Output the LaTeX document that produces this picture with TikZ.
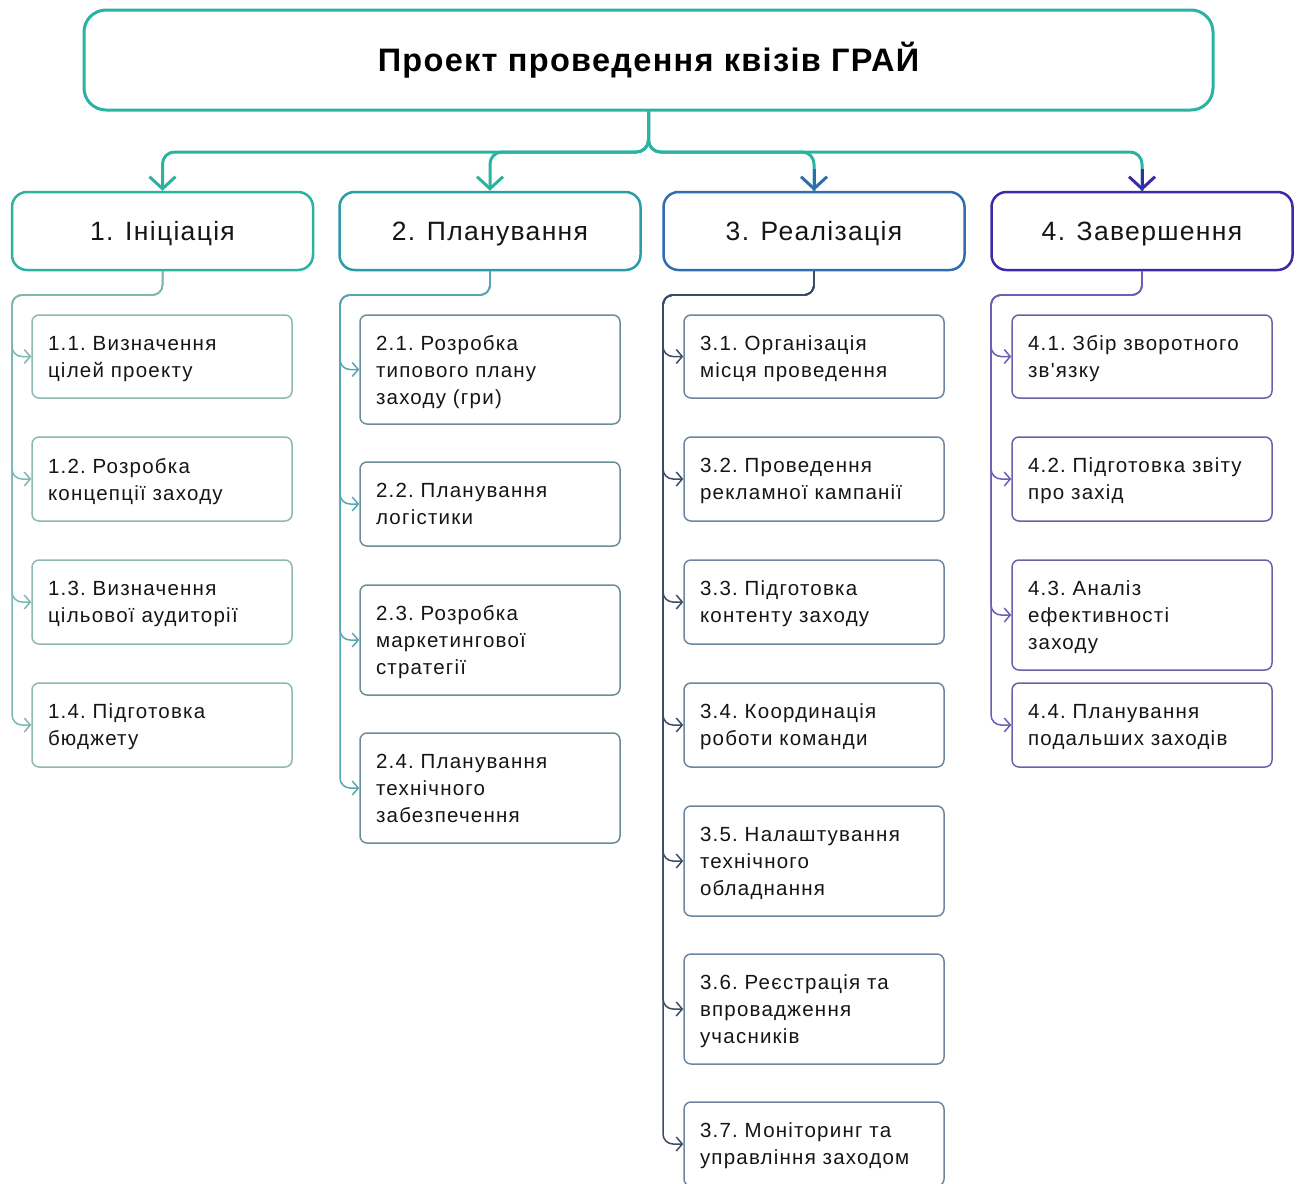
\documentclass[tikz,border=0pt]{standalone}
\usepackage{fontspec}
\setmainfont{Liberation Sans}[LetterSpace=5]
\newfontfamily\titlefont{Liberation Sans}[LetterSpace=4]
\newfontfamily\subfont{Liberation Sans}[LetterSpace=6]
\usetikzlibrary{arrows.meta}
\newcommand{\nd}[1]{\raisebox{0pt}[\height][0pt]{#1}}
\definecolor{tc}{HTML}{2BB3A2}
\definecolor{ca}{HTML}{2BB3A0}
\definecolor{cb}{HTML}{2A9CA6}
\definecolor{cc}{HTML}{2F6DB0}
\definecolor{cd}{HTML}{3A2AA8}
\definecolor{la}{HTML}{7DB8B0}
\definecolor{lb}{HTML}{55A6B0}
\definecolor{lc}{HTML}{3A4C66}
\definecolor{ld}{HTML}{6C5EB6}
\definecolor{ba}{HTML}{8DB8B2}
\definecolor{bb}{HTML}{6A8E96}
\definecolor{bc}{HTML}{6C86A2}
\definecolor{bd}{HTML}{6A62A8}
\definecolor{txt}{HTML}{151515}
\begin{document}
\begin{tikzpicture}[x=1pt,y=-1pt,
  titlebox/.style={draw=tc, line width=3pt, rounded corners=22pt, minimum width=1129pt, minimum height=100pt, text=black, font=\titlefont\fontsize{32.5}{38}\selectfont\bfseries},
  phase/.style={draw=#1, line width=2.5pt, rounded corners=15pt, minimum width=301pt, minimum height=78pt, text depth=0pt, text=txt, font=\fontsize{26.5}{32}\selectfont},
  subbox/.style={draw=#1, line width=1.5pt, rounded corners=7pt, minimum width=260pt, text width=228pt, inner xsep=0pt, align=left, text=txt, font=\subfont\fontsize{20.5}{27}\selectfont},
  trunk/.style={draw=tc, line width=3pt, rounded corners=12pt},
  bigtip/.style={-{Straight Barb[length=12pt,width=26pt,line width=3pt]}},
  subline/.style={draw=#1, line width=1.5pt, rounded corners=10pt, -{Straight Barb[length=6pt,width=14pt,line width=1.5pt]}}
]
\useasboundingbox (0,0) rectangle (1300,1183);
\clip (0,0) rectangle (1300,1183);

\node[titlebox] (title) at (648.5,60) {Проект проведення квізів ГРАЙ};

\node[phase=ca] (p1) at (162.5,231) {1. Ініціація};
\node[phase=cb] (p2) at (490,231) {2. Планування};
\node[phase=cc] (p3) at (814,231) {3. Реалізація};
\node[phase=cd] (p4) at (1142,231) {4. Завершення};

\coordinate (jn) at (648.5,152);
\draw[trunk,bigtip] (title.south) -- (jn) -| (p1.north);
\draw[trunk,bigtip] (title.south) -- (jn) -| (p2.north);
\draw[trunk] (title.south) -- (jn) -| (p3.north);
\draw[trunk] (title.south) -- (jn) -| (p4.north);
\draw[draw=cc, line width=3pt, bigtip] ([yshift=22pt]p3.north) -- (p3.north);
\draw[draw=cd, line width=3pt, bigtip] ([yshift=22pt]p4.north) -- (p4.north);

% column 1
\node[subbox=ba, minimum height=83pt] (s11) at (162,356.5) {1.1.~Визначення\\\nd{цілей~проекту}};
\node[subbox=ba, minimum height=84pt] (s12) at (162,479) {1.2.~Розробка\\\nd{концепції~заходу}};
\node[subbox=ba, minimum height=84pt] (s13) at (162,602) {1.3.~Визначення\\\nd{цільової~аудиторії}};
\node[subbox=ba, minimum height=84pt] (s14) at (162,725) {1.4.~Підготовка\\\nd{бюджету}};
\coordinate (t1) at (12,295);
\foreach \n in {s11,s12,s13,s14}
  \draw[subline=la] (p1.south) |- (t1) |- (\n.west);

% column 2
\node[subbox=bb, minimum height=109pt] (s21) at (490,369.5) {2.1.~Розробка\\типового~плану\\\nd{заходу~(гри)}};
\node[subbox=bb, minimum height=84pt] (s22) at (490,504) {2.2.~Планування\\\nd{логістики}};
\node[subbox=bb, minimum height=110pt] (s23) at (490,640) {2.3.~Розробка\\маркетингової\\\nd{стратегії}};
\node[subbox=bb, minimum height=110pt] (s24) at (490,788) {2.4.~Планування\\технічного\\\nd{забезпечення}};
\coordinate (t2) at (340,295);
\foreach \n in {s21,s22,s23,s24}
  \draw[subline=lb] (p2.south) |- (t2) |- (\n.west);

% column 3
\node[subbox=bc, minimum height=83pt] (s31) at (814,356.5) {3.1.~Організація\\\nd{місця~проведення}};
\node[subbox=bc, minimum height=84pt] (s32) at (814,479) {3.2.~Проведення\\\nd{рекламної~кампанії}};
\node[subbox=bc, minimum height=84pt] (s33) at (814,602) {3.3.~Підготовка\\\nd{контенту~заходу}};
\node[subbox=bc, minimum height=84pt] (s34) at (814,725) {3.4.~Координація\\\nd{роботи~команди}};
\node[subbox=bc, minimum height=110pt] (s35) at (814,861) {3.5.~Налаштування\\технічного\\\nd{обладнання}};
\node[subbox=bc, minimum height=110pt] (s36) at (814,1009) {3.6.~Реєстрація~та\\впровадження\\\nd{учасників}};
\node[subbox=bc, minimum height=84pt] (s37) at (814,1144) {3.7.~Моніторинг~та\\\nd{управління~заходом}};
\coordinate (t3) at (663,295);
\foreach \n in {s31,s32,s33,s34,s35,s36,s37}
  \draw[subline=lc] (p3.south) |- (t3) |- (\n.west);

% column 4
\node[subbox=bd, minimum height=83pt] (s41) at (1142,356.5) {4.1.~Збір~зворотного\\\nd{зв{\char"27}язку}};
\node[subbox=bd, minimum height=84pt] (s42) at (1142,479) {4.2.~Підготовка~звіту\\\nd{про~захід}};
\node[subbox=bd, minimum height=110pt] (s43) at (1142,615) {4.3.~Аналіз\\ефективності\\\nd{заходу}};
\node[subbox=bd, minimum height=84pt] (s44) at (1142,725) {4.4.~Планування\\\nd{подальших~заходів}};
\coordinate (t4) at (991,295);
\foreach \n in {s41,s42,s43,s44}
  \draw[subline=ld] (p4.south) |- (t4) |- (\n.west);
\end{tikzpicture}
\end{document}
